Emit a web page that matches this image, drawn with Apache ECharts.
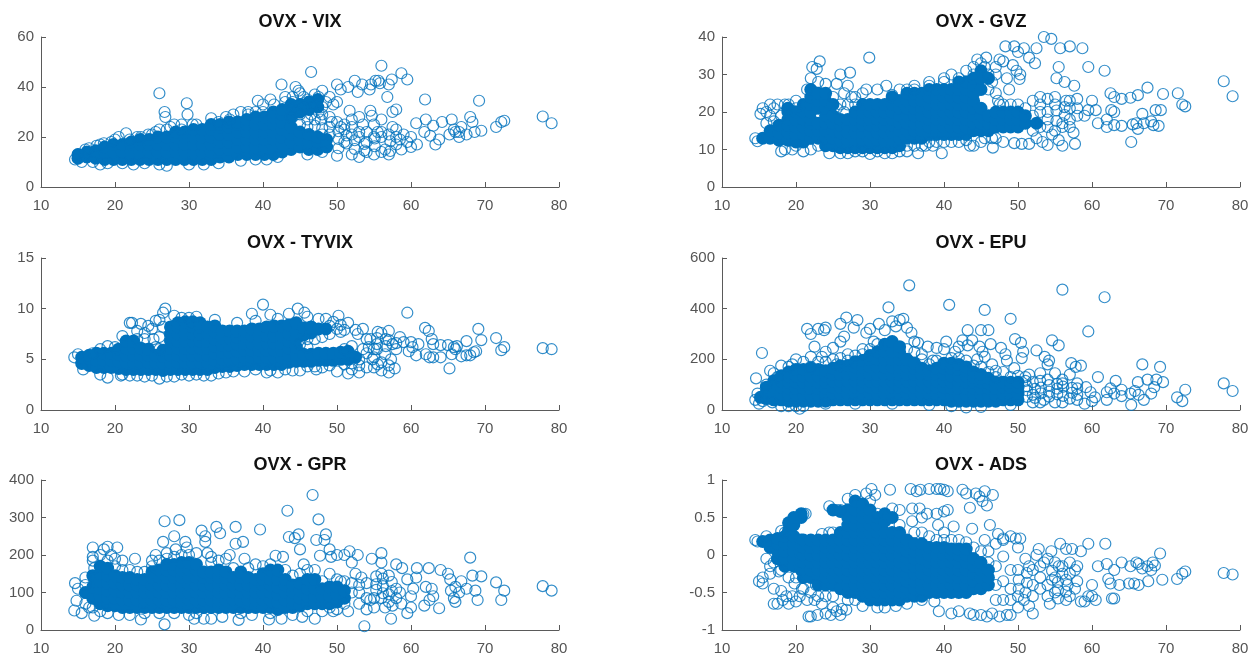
<!DOCTYPE html>
<html><head><meta charset="utf-8">
<style>html,body{margin:0;padding:0;background:#fff}#c{width:1254px;height:656px}canvas{filter:blur(0.45px)}</style>
<script src="https://cdn.jsdelivr.net/npm/echarts@6/dist/echarts.min.js"></script>
</head><body><div id="c"></div>
<script>
// Solid masses: each row is [ovx, y1, y2, ...], read by eye where rings merge into solid colour.
const vixSolid=[[15,11.5,13],[16.2,12,14],[17.4,11.5,14.5],[18.6,11,14,16],[19.8,11,14,17],[21,11,14,17],[22.2,11,14,17,18],[23.4,11,14,17,19],[24.6,11,14,17,19],[25.8,11,14,17,20],[27,11,14,17,20],[28.2,11,14,17,20,22],[29.4,11,14,17,20,22],[30.6,11,14,17,20,23],[31.8,11,14,17,20,23],[33,11,14,17,20,23,25],[34.2,12,15,18,21,24,25],[35.4,12,15,18,21,24,26],[36.6,13,16,19,22,25,26],[37.8,13,16,19,22,25,27],[39,13,16,19,22,25,28],[40.2,13,16,19,22,25,28],[41.4,13,16,19,22,25,28,30],[42.6,14,17,20,23,26,29,31],[43.8,15,18,21,24,28,31,33],[45,16,19,22,30,33],[46.2,15,18,21,31,34],[47.4,15,18,20,32,35],[48.6,16,19],[50.2,15.5,19.2,22.3],[51.3,17.4,20.6],[52.4,15.2,18.7],[53.7,14.6,17.2],[55.1,16.3,19.4],[57.2,14.4,18.3]];
const vixRings=[[14.6,11],[15,13],[15.5,10],[16.5,15.5],[17,10],[17.5,16.5],[18,9],[18.5,17.5],[19,9.5],[19.5,18],[20.5,20],[21.5,21.5],[21,9.5],[22.5,9],[23,20],[24,9.5],[24.5,21],[25.5,22],[26,9],[27,8.5],[27.5,24],[28,25],[29,25],[30,9],[30.5,25],[32,9],[33,27.5],[34,9.5],[35,28],[36,29],[37,30],[37,10.5],[38,29],[39,11],[39.3,34.5],[40,33],[40.5,11],[41.5,33],[42,12],[42.5,41],[43,34],[44.4,40],[44.8,38.5],[45,37.5],[46.5,46],[47,37],[47.5,36],[48,38.5],[48.5,34],[47.5,30],[49,36],[46,13],[47,24.5],[48,14],[48,23.5],[49,28],[49.3,26],[50,41],[50,34],[50.5,39],[50,12.5],[50.5,24],[51,18],[51.5,40],[51.7,30.5],[52,13],[52,21],[52.4,42.5],[52.8,38],[53,28],[53,12],[53.4,41],[53.5,25],[54,18],[54.4,39],[54.5,30.5],[54.6,41],[54.7,28.5],[55,13],[55.2,42.5],[55.6,42.5],[55.5,22],[55.8,41.5],[56,48.5],[56,27],[56.5,15],[56.8,36],[57,41],[57.4,43],[57.5,30],[57.5,24],[58,31],[58,20],[58,17],[58.7,45.5],[58.7,15],[59.5,43],[59.5,18],[60,20],[60,16],[60.7,25.5],[60.8,17],[61.9,35],[62,27],[61.8,22],[62.6,20.5],[63,24.5],[63.3,17],[63.8,19],[64.2,26],[65.2,21],[65.5,27],[65.8,23],[66,22],[66.5,22],[66.8,24],[66.5,20],[67.5,21],[68,28],[68.3,26],[68.6,22],[69.2,34.5],[69.5,22.5],[71.5,24],[72.2,26],[72.6,26.5],[77.8,28.2],[79,25.5],[26,23],[26.7,30],[26.8,28],[26,37.5],[29.7,33.5],[29.8,29],[44,34],[45.5,32],[46,35],[46.5,29],[45,29]];
const vixFringe=[[44,28],[45,25],[46,27],[46,24],[47,27],[48,29],[48,21],[49,21],[49,24],[50,26],[51,23],[51,25],[52,24],[52,27],[53,22],[53,20],[54,22],[54,14],[55,20],[55,25],[56,22],[56,20],[56,14],[57,21],[57,13],[58,23],[58.5,19],[59,21],[44.5,30],[45.5,36],[46.5,32],[47,33],[48,32],[47.8,27],[49.5,33],[44,31],[43,36],[44,36],[41,35],[40,30],[39,30],[38,30],[35.5,27],[34,26],[31,25],[29,23],[27,23],[25,21],[23.5,20],[22,19],[20,19],[18,17],[16,15]];
const gvzSolid=[[15.5,13],[16.5,13,15],[17.7,12.5,14.5,16.5],[18.9,12.5,14.5,16.5,18,20,21],[20,12,14,16,18,20],[21,12,14,16,18,20,22],[22,13,15,17,18,20,22,24,26],[23,13,15,17,21,23,25],[24,11,13,15,17,19,21,23,25],[25,11,13,15,17,19,22],[26,10.5,12.5,14.5,16.5,18],[27,10.5,12.5,14.5,16.5,18],[28,10.5,12.5,14.5,16.5,18,20],[29,10.5,12.5,14.5,16.5,18,20,22],[30,10.5,12.5,14.5,16.5,18,20,22],[31,10.5,12.5,14.5,16.5,18,20,22],[32,10.5,12.5,14.5,16.5,18,20,22],[33,10.5,12.5,14.5,16.5,18,20,22,24],[34,11,13,15,17,19,21,23],[35,13,15,17,19,21,23,25],[36,13,15,17,19,21,23,25],[37,13,15,17,19,21,23,25],[38,14,16,18,20,22,24,26],[39,14,16,18,20,22,24,26],[40,14,16,18,20,22,24,26],[41,14,16,18,20,22,24,26],[42,14,16,18,20,22,24,26,28],[43,14,16,18,20,22,24,26,28],[44,15,17,19,21,23,25,27,29],[45,15,17,19,21,26,29,31],[46,15,17,19,29],[47,16,18,20],[48,16,18,20],[49,16,18,20],[50,16,18,20],[51,17,19],[52.5,17],[54,18,20],[55.2,17.6,20.4],[56.3,19.2,21.3]];
const gvzRings=[[14.5,13],[14.8,12.2],[15.2,19.5],[15.5,21],[16,20],[16.5,22],[17,21],[17.5,22],[18,9.5],[18.5,22],[18.5,10],[19.5,10],[20,23],[21,9.5],[21.5,26],[22,29],[22.2,32],[22.8,31.5],[23.2,33.5],[23,28],[24,27.5],[24.5,9],[25.5,27.5],[26,30],[26,9],[26.5,25],[27,27],[27.3,30.5],[27,9],[28,24],[29,25],[29.5,26],[29.9,34.5],[30,8.8],[31,26],[32.2,27],[33,24.5],[33,9],[35,26],[35,9.5],[36.5,9],[36,26],[37.5,11],[38,27],[38.5,11],[39.7,9],[40,12],[40,28],[41,30],[42,29],[42,12],[43,31],[43.5,11],[44,30],[44.5,34],[45,12],[45.5,32],[45.7,34.5],[46,30],[46.6,10.5],[47,25],[47.3,23],[47.5,34],[48,33.5],[48.3,37.5],[48.5,29],[48,12],[48.8,26],[49.3,32.5],[49.5,37.5],[49.8,31],[50,36],[50.3,30],[50.2,28.8],[49.5,11.7],[50.5,11.5],[50.8,37],[51.5,11.5],[51.5,34.5],[52.3,33],[52.5,37],[52,23],[52.5,13],[53,24],[53.3,12],[53.5,40],[54,11.2],[54,23.5],[54.5,39.5],[54.6,14],[55,22],[55.2,29],[55.5,32],[55.5,12.5],[55.7,37],[56,11],[56.3,28],[56.5,23],[57,37.5],[57,16],[57.5,14.5],[57.6,27],[57.7,11.5],[58,23.5],[58.7,37],[59,19],[59.5,32],[59.5,20.5],[60,23],[60.5,20.5],[60.8,17],[61.7,31],[62,16],[62,18],[62.5,25],[62.6,20.5],[63,24],[63,20],[63,16.5],[64,23.5],[64,16.3],[65.2,23.8],[65.3,12],[65.5,16.7],[66,17],[66.2,24.5],[66.2,15.5],[66.8,19.5],[67,17],[67.5,26.5],[68,17.5],[68.3,16.5],[68.6,20.5],[69,16.3],[69.3,20.5],[69.6,24.8],[71.6,25],[72.2,22],[72.6,21.5],[77.8,28.2],[79,24.2]];
const gvzFringe=[[16,17],[16.5,19],[17,17.5],[18,19],[19,22],[20,21],[20,11],[22,10],[23,11],[25,24],[25.5,21],[26,22],[26.5,20],[27,22],[27.5,24],[28,22],[28,9.5],[29,9.5],[31,9.5],[32,9],[34,9.5],[35,11],[36,11],[37,11],[38,12],[39,12],[41,12],[43,12.5],[44,11],[45.5,13],[46.5,13],[47,13],[47.5,22],[48,22],[49,22],[50,22],[51,21],[52,19],[52,15],[53,16],[53,20],[53,22],[54,16],[55,15],[55,24],[56,16],[56,17],[57,18],[57,21],[57,23],[58,19],[58,21],[46,26],[46.5,28],[47,30],[47,32],[45,33],[44,32],[40,29],[38,28],[36,27],[34,26]];
const tyvixSolid=[[15.5,4.6,5.2],[16.5,4.4,5.1,5.4],[17.5,4.2,4.9,5.6],[18.5,4.2,4.9,5.6],[19.5,4.2,4.9,5.6],[20.5,4.1,4.8,5.5,6],[21.5,4,4.7,5.4,6.1,6.8],[22.5,4,4.7,5.4,6.1,6.8],[23.5,4,4.7,5.4,6.1],[24.5,4,4.7,5.4,6],[25.5,4,4.7,5.4],[26.5,3.9,4.6,5.3,5.9],[27.5,4,4.7,5.4,6.1,6.8,7.5,8.2],[28.5,4,4.7,5.4,6.1,6.8,7.5,8.2,8.6],[29.5,4,4.7,5.4,6.1,6.8,7.5,8.2,8.7],[30.5,4,4.7,5.4,6.1,6.8,7.5,8.2,8.7],[31.5,4,4.7,5.4,6.1,6.8,7.5,8.2,8.6],[32.5,4,4.7,5.4,6.1,6.8,7.5,8.2],[33.5,4.2,4.9,5.6,6.3,7,7.7,8.3],[34.5,4.3,5,5.7,6.4,7.1,7.8],[35.5,4.3,5,5.7,6.4,7.1,7.8],[36.5,4.4,5.1,5.8,6.5,7.2,7.8],[37.5,4.5,5.2,5.9,6.6,7.3,7.8],[38.5,4.5,5.2,5.9,6.6,7.3,8],[39.5,4.5,5.2,5.9,6.6,7.3,8],[40.5,4.5,5.2,5.9,6.6,7.3,8.2],[41.5,4.5,5.2,5.9,6.6,7.3,8.3],[42.5,4.5,5.2,5.9,6.6,7.3,8.3],[43.5,4.7,5.4,6.1,6.8,7.5,8.4],[44.5,4.8,5.5,6.2,7,7.7,8.6],[45.5,4.8,5.5,7.4,8.1],[46.5,4.8,5.5,7.6,8.2],[47.5,4.9,5.6,8],[48.5,4.9,5.6,8],[49.5,4.9,5.6],[50.5,5,5.7],[51.5,5,5.8],[52.5,5.2],[54.3,6.2],[55.4,6,6.5,7.1],[56.6,6.3,7]];
const tyvixRings=[[14.5,5.2],[15,5.5],[15.7,4],[17,5.6],[18,6],[18,3.5],[19,3.2],[19,6.3],[20,6.2],[20.8,3.4],[21,7.3],[22,8.6],[22.3,8.6],[23.5,8.5],[24,3.3],[24.5,8.3],[25,8],[25.2,7],[25.5,6.2],[25.5,8.8],[26,3.1],[26,8.9],[26.5,9.6],[26.8,10],[28,9.3],[29,9.1],[30,9.1],[31,9.2],[32,3.4],[33.5,8.9],[34,3.6],[36.5,8.6],[37.5,3.8],[38.5,9.5],[39,8.8],[40,10.4],[40.5,3.7],[41,9.4],[42,3.7],[42,9],[43.5,9.5],[44,3.9],[44.7,10],[45,3.9],[45.6,9.6],[46,9.2],[47.2,4],[47.5,9],[48.5,9],[49.5,8.7],[50,3.8],[50.2,9.3],[50.5,8.4],[50.5,7.7],[51,4.5],[51.5,3.6],[51.5,8.6],[52.5,7.9],[52.8,7.5],[53,3.7],[53.5,8],[53.5,6],[54,4.2],[54.5,7],[54.8,5],[55,6],[55.5,7.7],[55.5,4.5],[56,3.9],[56.5,5.5],[57,7.8],[57,3.7],[57.3,5],[57.5,6.5],[57.8,4.1],[58.5,7.2],[59,6.7],[59.5,9.6],[59.7,5.8],[60,6.7],[60.2,6.2],[60.7,5.4],[61,6.5],[61.9,8.1],[62,5.5],[62.4,7.8],[62.5,5.2],[62.8,7],[63,6.5],[63,5.2],[64,6.4],[64,5.2],[65,6.4],[65.2,4.1],[65.5,5.5],[65.8,6.2],[66,6],[66.2,6.3],[66.8,5.3],[67.5,6.8],[67.5,5.4],[68,5.4],[68.5,5.7],[68.8,5.8],[69.1,8],[69.5,6.9],[71.5,7.1],[72.2,5.9],[72.6,6.2],[77.8,6.1],[79,6]];
const tyvixFringe=[[21,3.5],[22,3.4],[23,3.4],[23,7],[23,7.8],[24,7.6],[24,7],[25,3.4],[27,3.3],[28,3.3],[29,3.5],[30,3.4],[31,3.5],[33,3.4],[35,3.7],[36,3.8],[39,4],[41,3.9],[43,4],[46,4.3],[47,4.3],[48,4.2],[49,4.4],[47,7],[48,7.2],[49,7.5],[49,8.3],[50,8],[51,7.9],[51,6],[52,4],[52,6.3],[52,4.6],[53,5],[53,4.4],[54,5.6],[54,7],[55,5.2],[55,4.2],[56,4.7],[56,7.6],[57,6.9],[57,4.4],[58,6],[58,6.6],[26,7.2],[26.5,8.2],[26,6],[45,6.5],[46,6.2],[46,7]];
const epuSolid=[[15.2,50],[16,45,70,90],[17,40,65,90,115],[18,40,65,90,115,135],[19,35,60,85,110,135,150],[20,35,60,85,110,135,160],[21,35,60,85,110,135,160],[22,35,60,85,110,135,165],[23,35,60,85,110,135,160],[24,35,60,85,110,135,155],[25,40,65,90,115,140,165],[26,40,65,90,115,140,175],[27,40,65,90,115,140,175],[28,40,65,90,115,140,170,190],[29,40,65,90,115,140,170,195],[30,40,65,90,115,140,170,200,215],[31,40,65,90,115,140,170,200,230],[32,40,65,90,115,140,170,200,230,260],[33,40,65,90,115,140,170,200,230,270],[34,40,65,90,115,140,170,200,230,250],[35,40,65,90,115,140,170,200],[36,40,65,90,115,140,165,185],[37,40,65,90,115,140,165],[38,40,65,90,115,140,155],[39,40,65,90,115,140,165],[40,40,65,90,115,140,165,185],[41,35,60,85,110,135,165,185],[42,35,60,85,110,135,160,180],[43,35,60,85,110,135,155,170],[44,35,60,85,110,130,150],[45,35,60,85,110,125,140],[46,35,60,85,105,125],[47,35,60,85,110],[48,40,65,90,110],[49,40,65,90,110],[50,40,65,90,110],[51.2,52,78,94],[52.3,48,83],[53.1,66,88],[54.2,53,72,98],[55.3,62,84,103],[56.1,56,92],[57.3,68,87]];
const epuRings=[[14.5,40],[14.6,125],[14.8,65],[15.4,225],[15.5,35],[16.5,155],[16.8,30],[17.5,130],[18,175],[19,170],[19.5,180],[20,200],[20.5,5],[21,190],[21.5,320],[22,300],[22,210],[22.5,250],[23,320],[23.5,210],[23.8,315],[24,325],[24,230],[25,245],[25.5,180],[26,340],[26,270],[26.5,290],[26.8,365],[27,220],[27.8,325],[28.3,355],[29,240],[29.5,305],[30,320],[30.5,270],[31.2,340],[32,315],[32.5,405],[33,350],[33.5,330],[34,355],[34.5,360],[35,325],[35.3,492],[35.6,305],[36,270],[36.5,265],[37,220],[37.8,250],[38.5,195],[39,245],[40,240],[40.3,270],[40.7,415],[41,15],[41.5,230],[42,250],[42.5,275],[43.2,255],[43.2,315],[43.8,275],[44.5,200],[44.8,250],[45,315],[45.2,230],[45.5,395],[45.5,210],[46,315],[46.3,260],[46.5,180],[47,155],[47.7,245],[48.3,220],[48.5,195],[49,360],[49.5,165],[49.6,280],[50.4,265],[50.5,205],[50.7,230],[51,130],[51.5,140],[52,60],[52.5,235],[53,145],[53.5,40],[53.6,210],[54,180],[54.2,195],[54.6,275],[55,145],[55.5,255],[56,120],[56,475],[57,140],[57.2,185],[57.8,170],[58,40],[58.5,175],[59,25],[59.2,90],[59.5,310],[59.8,70],[60,35],[60.4,50],[60.8,130],[61.7,445],[62,40],[62,70],[62.5,85],[63,65],[63.2,115],[64,55],[64,80],[65.2,65],[65.3,20],[65.8,75],[66.2,110],[66.3,60],[66.8,180],[67,40],[67.5,120],[68,65],[68.4,90],[68.7,120],[69.2,170],[69.6,110],[71.5,50],[72.2,35],[72.6,80],[77.8,105],[79,75]];
const epuFringe=[[15,25],[16,100],[17,145],[18,15],[19,15],[20,15],[21,15],[22,170],[23,190],[24,190],[25,200],[26,205],[27,195],[28,215],[29,220],[30,240],[31,260],[35,240],[36,230],[37,200],[38,180],[39,195],[41,205],[42,205],[43,195],[44,175],[45,170],[46,150],[47,130],[48,150],[49,130],[50,135],[51,115],[52,110],[52,30],[53,115],[54,120],[55,30],[56,30],[56,105],[57,45],[58,60],[58,85],[58,105],[53,30],[49,20],[45,12],[43,10],[38,20],[33,25],[28,25],[24,25]];
const gprSolid=[[16,100],[17,85,115,145],[18,70,90,110,130,150,170],[19,65,85,105,125,145,165],[20,65,85,105,125,145],[21,60,80,100,120,140],[22,60,80,100,120,140],[23,60,80,100,120,135],[24,60,80,100,120,135],[25,60,80,100,120,140,155],[26,60,80,100,120,140,160],[27,60,80,100,120,140,160,175],[28,60,80,100,120,140,160,175],[29,60,80,100,120,140,160,180],[30,60,80,100,120,140,160,180],[31,60,80,100,120,140,160,175],[32,60,80,100,120,140,155],[33,60,80,100,120,140,155],[34,60,80,100,120,140,160],[35,60,80,100,120,140,155],[36,60,80,100,120,140],[37,60,80,100,120,140,155],[38,60,80,100,120,140],[39,60,80,100,120,135],[40,60,80,100,120,135,150],[41,60,80,100,120,135,160],[42,55,75,95,115,135,160],[43,60,80,100,120,135],[44,60,80,100,120],[45,65,85,105,125],[46,70,90,110,135],[47,70,90,110,135],[48,70,90,110],[49,70,90,115],[50,75,95,115],[51,85,105],[55.3,107,122,143],[56.2,98,117,137],[57.4,104,128]];
const gprRings=[[14.5,52],[14.6,125],[14.8,78],[15,110],[15.5,45],[16,140],[16.5,60],[17,220],[17,185],[17.2,165],[17.2,38],[18.5,215],[19,222],[19.5,200],[20.3,220],[20.5,40],[21,185],[22,40],[22.7,190],[23.5,28],[24,45],[25,170],[25.5,200],[26.5,235],[26.7,290],[26.7,15],[27,190],[28,250],[28.7,293],[28.2,215],[29.5,235],[29.7,220],[30,40],[30.7,30],[31,205],[31.7,265],[32,30],[32.2,250],[32.2,235],[32.5,205],[33,30],[33,195],[33.7,275],[34.2,258],[34.5,35],[35,190],[35.5,200],[36.3,275],[36.3,230],[36.7,27],[37.3,235],[37.5,190],[38.5,40],[39,175],[39.6,268],[40.8,28],[41,175],[41.7,198],[42.5,30],[42.7,195],[43.3,318],[43.5,248],[44.3,245],[44.8,255],[45,215],[45.3,35],[45.5,175],[46.7,360],[47,30],[47.2,240],[47.5,295],[47.7,198],[48.3,240],[48.5,255],[49,215],[49.2,195],[49.5,50],[50,200],[50,55],[50.5,130],[51,200],[51.5,50],[51.7,210],[52,180],[52.5,150],[52.8,200],[53,70],[53.3,140],[53.7,10],[54,55],[54.5,80],[54.7,190],[55,60],[56,180],[56,205],[56.5,60],[57,75],[57.3,30],[57.5,65],[58,175],[58.5,100],[58.7,70],[58.8,165],[59.5,45],[59.5,135],[60,60],[60,90],[60.3,110],[60.7,140],[60.8,165],[61.8,65],[62,115],[62.4,165],[62.5,80],[62.8,110],[63,90],[63.8,58],[64,160],[65,150],[65.3,135],[65.4,105],[65.8,85],[66,75],[66,115],[66.5,100],[66.8,130],[67.5,110],[68,193],[68.3,145],[68.7,105],[69,80],[69.5,143],[71.5,127],[72.2,80],[72.6,105],[77.8,117],[79,105]];
const gprFringe=[[16,70],[16,120],[17,60],[17,195],[18,50],[18,200],[19,185],[19,45],[20,170],[20,190],[21,160],[22,160],[23,155],[24,155],[25,185],[26,185],[26,45],[27,205],[28,195],[28,45],[29,200],[30,200],[31,45],[33,180],[34,185],[36,165],[37,45],[38,165],[40,170],[41,45],[43,160],[44,145],[44,40],[45,150],[46,160],[46,50],[47,160],[48,130],[48,50],[49,150],[49,60],[50,135],[51,130],[51,70],[52,100],[52,125],[53,100],[53,120],[54,85],[54,125],[55,85],[56,85],[56,150],[57,95],[57,145],[58,110],[58,85]];
const adsSolid=[[15.5,.18],[16.5,.1,.2],[17.5,-.05,.05,.15,.22],[18.5,-.15,-.05,.05,.15,.25],[19,.33,.43],[19.7,-.15,-.05,.05,.15,.25,.4,.5],[20.7,-.2,-.1,0,.1,.2,.5,.55],[21,-.3,-.2,-.1,0,.1,.2],[22,-.3,-.2,-.1,0,.1,.2],[23,-.4,-.3,-.2,-.1,0,.1,.2],[24,-.4,-.3,-.2,-.1,0,.1,.2],[25,-.4,-.3,-.2,-.1,0,.1,.2,.6],[26,-.45,-.3,-.2,-.1,0,.1,.2,.3,.58],[27,-.5,-.4,-.3,-.2,-.1,0,.1,.2,.3,.4,.5,.6],[28,-.5,-.4,-.3,-.2,-.1,0,.1,.2,.3,.4,.5,.6,.72],[29,-.55,-.4,-.3,-.2,-.1,0,.1,.2,.3,.4,.5,.6,.68],[30,-.6,-.5,-.4,-.3,-.2,-.1,0,.1,.2,.3,.4,.5,.6],[31,-.6,-.5,-.4,-.3,-.2,-.1,0,.1,.2,.3,.4,.5],[32,-.6,-.5,-.4,-.3,-.2,-.1,0,.1,.2,.3,.45,.55],[33,-.6,-.5,-.4,-.3,-.2,-.1,0,.1,.2,.3,.5],[34,-.6,-.5,-.4,-.3,-.2,-.1,0,.1,.2,.3],[35,-.55,-.45,-.35,-.25,-.15,-.05,.05,.15,.2],[36,-.55,-.45,-.35,-.25,-.15,-.05,.05,.15],[37,-.55,-.45,-.35,-.25,-.15,-.05,.05,.15],[38,-.5,-.4,-.3,-.2,-.1,0,.1],[39,-.5,-.4,-.3,-.2,-.1,0,.1],[40,-.5,-.4,-.3,-.2,-.1,0,.1],[41,-.5,-.4,-.3,-.2,-.1,0,.08],[42,-.5,-.4,-.3,-.2,-.1,0,.08],[43,-.5,-.4,-.3,-.2,-.1,0,.08],[44,-.45,-.35,-.25,-.15,-.05],[45,-.45,-.3,-.2,-.1],[46,-.4,-.3,-.2],[50.1,-.45,-.33],[51.2,-.37,-.24],[54.6,-.33,-.21],[55.4,-.58,-.47,-.36],[56.5,-.6,-.49,-.33]];
const adsRings=[[14.5,.2],[14.8,.18],[15,-.35],[15.5,-.38],[15.5,-.3],[16,.25],[16.5,-.25],[17,-.45],[17,-.65],[17.5,-.65],[17.7,-.22],[18,-.48],[18.2,-.6],[18.5,.3],[18.7,-.55],[19,-.65],[19.5,-.55],[19.8,-.38],[20,-.62],[20.5,-.55],[20.8,-.45],[21,.55],[21.3,.55],[21.7,-.82],[22,-.82],[22.7,-.4],[22.9,-.8],[23,-.55],[23.5,-.65],[24,-.78],[24.7,-.8],[24.5,.65],[25,-.7],[25.5,-.75],[26,-.8],[26.2,-.72],[26.8,-.73],[27,.75],[28,.8],[29,-.68],[29.5,.82],[30.2,.88],[30.7,.8],[31,-.7],[31,.55],[32,-.7],[32.7,.87],[33.5,-.68],[34,.6],[35,-.65],[35.5,.88],[35.7,.62],[35.7,.45],[36.3,.85],[36.7,.62],[36.8,.87],[37,.5],[37,-.6],[37.7,.55],[38,.88],[38.7,-.62],[39,.88],[39,.55],[39.2,.4],[39.5,.88],[39.3,-.75],[40,.87],[40,.58],[40.5,.85],[40.5,.6],[40,.3],[41,-.78],[41.3,.38],[42,-.75],[42.5,.87],[43,.82],[43.5,.63],[43.8,.35],[43.5,-.78],[44,-.8],[44.3,.82],[44.8,.78],[45,-.8],[45.2,.72],[45.5,.85],[45.8,.66],[45.5,.2],[45.8,-.82],[46.2,.4],[46.6,.8],[46.5,-.78],[47.3,.28],[47.5,-.82],[47,.15],[48,.2],[48,.22],[48,-.02],[48.5,-.8],[49,-.8],[49,.25],[49.7,.22],[50,.1],[50,-.7],[50.3,.22],[50.8,-.6],[51,-.05],[51.5,-.68],[51.5,-.15],[52,-.78],[52.5,0],[52.8,.08],[53,-.3],[53.5,-.1],[54,-.55],[54.3,-.65],[54.5,.05],[55,-.1],[55,-.3],[55.5,-.15],[55.7,.15],[56.5,.08],[56.7,-.4],[57,-.25],[57.3,.08],[57.7,-.2],[57.7,-.45],[58,-.35],[58.5,.05],[58.5,-.62],[59,-.62],[59.5,.15],[59.5,-.55],[60,-.4],[60,-.55],[60.5,-.6],[60.8,-.15],[61.8,.15],[62,-.12],[62.2,-.32],[62.5,-.38],[62.7,-.58],[63,-.2],[63,-.58],[63.7,-.4],[64,-.1],[65,-.38],[65.2,-.15],[65.7,-.38],[66,-.1],[66.3,-.12],[66.3,-.4],[66.8,-.18],[67.5,-.15],[67.6,-.35],[68,-.2],[68.2,-.1],[68.5,-.14],[69.2,.02],[69.5,-.33],[71.5,-.32],[72.2,-.25],[72.6,-.22],[77.8,-.24],[79,-.26]];
const adsFringe=[[16,-.05],[16.5,-.15],[17,-.1],[18,.32],[18,-.2],[19,-.3],[20,-.3],[21,-.45],[21.5,-.6],[22,-.5],[22.5,-.6],[23.5,.28],[24,-.55],[24.5,.3],[25,.3],[25,-.55],[25.5,.6],[26,.6],[27,-.6],[28,-.6],[30,.72],[33,.62],[34,.4],[36,.3],[37,.3],[38,.25],[39,.2],[40,.2],[41,.2],[42,.2],[43,.17],[44,.1],[45,.05],[46,.05],[46,-.1],[47,-.15],[47,-.4],[47,-.6],[48,-.35],[48,-.6],[49,-.45],[49,-.2],[49,-.6],[50,-.2],[50,-.55],[51,-.5],[52,-.2],[52,-.4],[52,-.55],[53,-.15],[53,-.45],[54,-.05],[54,-.4],[55,-.5],[56,-.15],[56,-.25],[57,-.1],[57,-.55],[58,-.15]];
const panelTitles=['OVX - VIX','OVX - GVZ','OVX - TYVIX','OVX - EPU','OVX - GPR','OVX - ADS'];
const solids=[vixSolid,gvzSolid,tyvixSolid,epuSolid,gprSolid,adsSolid];
const rings=[vixRings.concat(vixFringe),gvzRings.concat(gvzFringe),tyvixRings.concat(tyvixFringe),epuRings.concat(epuFringe),gprRings.concat(gprFringe),adsRings.concat(adsFringe)];
// Beyond this OVX value the cloud thins out, so its rows are drawn as separate rings.
const ringFrom=[50,53,54,51,52,50];
const yMin=[0,0,0,0,0,-1],yMax=[60,40,15,600,400,1],yStep=[20,10,5,200,100,.5];
const lefts=[41,722],tops=[37,258,480],heights=[150,152,152];
const axisCol='#5a5a5a',txt='#555',blue='#0072BD';
const grid=[],xAxis=[],yAxis=[],title=[],series=[];
panelTitles.forEach((t,i)=>{
  const c=i%2,r=Math.floor(i/2);
  grid.push({left:lefts[c],top:tops[r],width:518,height:heights[r]});
  title.push({text:t,left:lefts[c]+259,top:tops[r]-24,textAlign:'center',padding:0,textStyle:{fontFamily:'Liberation Sans',fontSize:18,fontWeight:'bold',color:'#111'}});
  const ax={gridIndex:i,axisLine:{onZero:false,lineStyle:{color:axisCol,width:1}},axisTick:{inside:true,length:5,lineStyle:{color:axisCol}},splitLine:{show:false},axisLabel:{color:txt,fontFamily:'Liberation Sans',fontSize:15,margin:7,showMinLabel:true,showMaxLabel:true}};
  xAxis.push({...ax,type:'value',min:10,max:80,interval:10,axisLabel:{...ax.axisLabel,margin:11}});
  yAxis.push({...ax,type:'value',min:yMin[i],max:yMax[i],interval:yStep[i]});
  const solid=[],thin=[];
  solids[i].forEach(row=>row.slice(1).forEach(y=>(row[0]<ringFrom[i]?solid:thin).push([row[0],y])));
  series.push({type:'scatter',xAxisIndex:i,yAxisIndex:i,data:solid,symbolSize:13,clip:false,silent:true,itemStyle:{color:blue,opacity:1}});
  series.push({type:'scatter',xAxisIndex:i,yAxisIndex:i,data:rings[i].concat(thin),symbolSize:11,clip:false,silent:true,itemStyle:{color:'rgba(0,0,0,0)',borderColor:blue,borderWidth:1.2,opacity:.8}});
});
const chart=echarts.init(document.getElementById('c'),null,{renderer:'canvas'});
chart.setOption({animation:false,backgroundColor:'#fff',title,grid,xAxis,yAxis,series});
</script></body></html>
